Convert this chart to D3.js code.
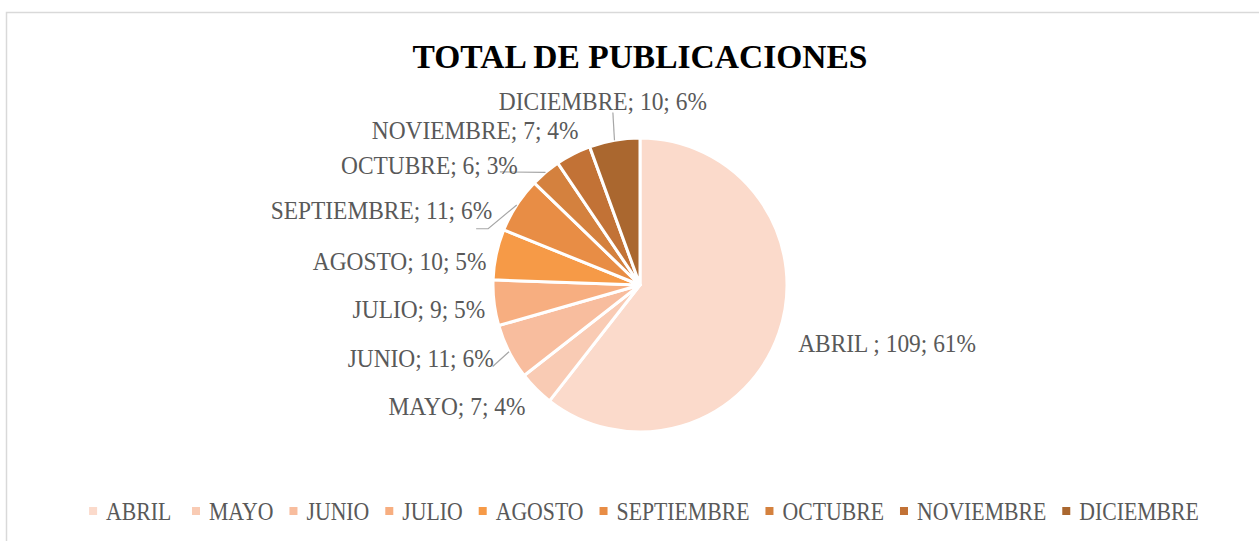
<!DOCTYPE html>
<html>
<head>
<meta charset="utf-8">
<script src="https://cdn.jsdelivr.net/npm/d3@7"></script>
<style>
  html, body { margin: 0; padding: 0; background: #fff; }
  svg { display: block; }
  text { white-space: pre; }
</style>
</head>
<body>
<div id="chart"></div>
<script>
// Data
let months = ["ABRIL ", "MAYO", "JUNIO", "JULIO", "AGOSTO", "SEPTIEMBRE", "OCTUBRE", "NOVIEMBRE", "DICIEMBRE"];
let counts = [109, 7, 11, 9, 10, 11, 6, 7, 10];
let percents = ["61%", "4%", "6%", "5%", "5%", "6%", "3%", "4%", "6%"];
let colors = ["#FBDACB", "#F9CBB4", "#F8BD9E", "#F7AE80", "#F69A47", "#E88D45", "#D4813E", "#C27236", "#AA672F"];

let width = 1259, height = 541;
let cx = 640, cy = 285, radius = 147;
let labelRadius = 162;
let squeeze = 0.87; // the original serif is narrower than Liberation Serif

let svg = d3.select("#chart").append("svg")
  .attr("width", width)
  .attr("height", height);

// chart frame
svg.append("rect")
  .attr("x", 6.5).attr("y", 12.5)
  .attr("width", width + 10).attr("height", height + 10)
  .attr("fill", "#fff")
  .attr("stroke", "#D9D9D9")
  .attr("stroke-width", 1.5);

svg.append("text")
  .attr("x", 640).attr("y", 68)
  .attr("text-anchor", "middle")
  .attr("font-family", "Liberation Serif")
  .attr("font-weight", "bold")
  .attr("font-size", 33.5)
  .attr("fill", "#000")
  .text("TOTAL DE PUBLICACIONES");

function condense(sel, k) {
  sel.each(function() {
    let w = this.getComputedTextLength();
    d3.select(this).attr("textLength", w * k).attr("lengthAdjust", "spacingAndGlyphs");
  });
}

let data = months.map((m, i) => ({ month: m, count: counts[i], pct: percents[i], color: colors[i] }));

let pie = d3.pie().sort(null).value(d => d.count);
let arcs = pie(data);

let arc = d3.arc().innerRadius(0).outerRadius(radius);
let labelArc = d3.arc().innerRadius(labelRadius).outerRadius(labelRadius);
let edgeArc = d3.arc().innerRadius(radius).outerRadius(radius);

let g = svg.append("g").attr("transform", `translate(${cx},${cy})`);

g.selectAll("path.slice")
  .data(arcs)
  .enter()
  .append("path")
  .attr("class", "slice")
  .attr("d", arc)
  .attr("fill", d => d.data.color)
  .attr("stroke", "#fff")
  .attr("stroke-width", 3)
  .attr("stroke-linejoin", "round");

// Excel-style nudges of each label from its centroid, and leader elbows
let nudges = {
  "ABRIL ": [5, 5], MAYO: [0, 6], JUNIO: [-2, -1], JULIO: [6, 4], AGOSTO: [5, 10],
  SEPTIEMBRE: [-12, 13], OCTUBRE: [-18, 4], NOVIEMBRE: [12, -11], DICIEMBRE: [-9, -25]
};
let leaders = {
  DICIEMBRE: [[10, 12]],
  OCTUBRE: [[-18, 7]],
  SEPTIEMBRE: [[-4, 19], [-16, 19]],
  JUNIO: [[-1, 9]]
};

function labelPos(d) {
  let c = labelArc.centroid(d);
  let n = nudges[d.data.month];
  return [c[0] + n[0], c[1] + n[1]];
}
function anchorOf(d) {
  let mid = (d.startAngle + d.endAngle) / 2;
  if (d.data.month === "DICIEMBRE") return "middle";
  return mid < Math.PI ? "start" : "end";
}

g.selectAll("path.leader")
  .data(arcs.filter(d => leaders[d.data.month]))
  .enter()
  .append("path")
  .attr("class", "leader")
  .attr("d", d => {
    let p = labelPos(d);
    let pts = [edgeArc.centroid(d)].concat(leaders[d.data.month].map(o => [p[0] + o[0], p[1] + o[1]]));
    return d3.line()(pts);
  })
  .attr("fill", "none")
  .attr("stroke", "#A6A6A6")
  .attr("stroke-width", 1.2);

g.selectAll("text.label")
  .data(arcs)
  .enter()
  .append("text")
  .attr("class", "label")
  .attr("x", d => labelPos(d)[0])
  .attr("y", d => labelPos(d)[1])
  .attr("dy", "0.35em")
  .attr("text-anchor", anchorOf)
  .attr("font-family", "Liberation Serif")
  .attr("font-size", 26)
  .attr("fill", "#595959")
  .text(d => d.data.month + "; " + d.data.count + "; " + d.data.pct)
  .call(condense, 0.9);

// legend
let legend = svg.append("g").attr("transform", "translate(0,511)");
let items = legend.selectAll("g.item")
  .data(data)
  .enter()
  .append("g")
  .attr("class", "item");

items.append("rect")
  .attr("width", 8).attr("height", 8)
  .attr("y", -4)
  .attr("fill", d => d.color);

items.append("text")
  .attr("x", 17)
  .attr("dy", "0.35em")
  .attr("font-family", "Liberation Serif")
  .attr("font-size", 25)
  .attr("fill", "#595959")
  .text(d => d.month)
  .call(condense, squeeze);

let gap = 16;
let offsets = [];
let total = 0;
items.each(function(d, i) {
  let w = 17 + +d3.select(this).select("text").attr("textLength");
  offsets.push(total);
  total += w + (i < data.length - 1 ? gap : 0);
});
let startX = 644 - total / 2;
items.attr("transform", (d, i) => `translate(${startX + offsets[i]},0)`);
</script>
</body>
</html>
